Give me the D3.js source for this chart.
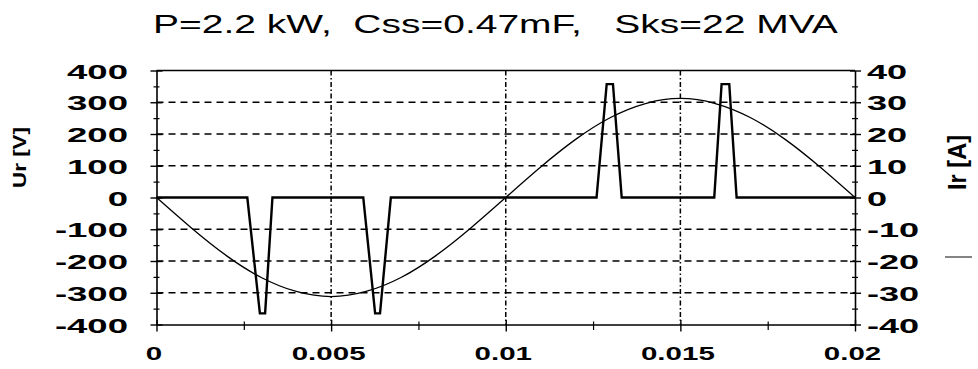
<!DOCTYPE html>
<html>
<head>
<meta charset="utf-8">
<script src="https://cdn.jsdelivr.net/npm/d3@7"></script>
<style>
  html, body { margin: 0; padding: 0; background: #fff; }
  svg { display: block; }
  text { font-family: "Liberation Sans", Arial, sans-serif; fill: #000; }
</style>
</head>
<body>
<svg id="chart" width="978" height="369"></svg>
<script>
// Rectifier input: phase voltage Ur and phase current Ir over one 50 Hz period
const titleText = "P=2.2 kW,  Css=0.47mF,   Sks=22 MVA";
const voltLabel = "Ur [V]";
const currLabel = "Ir [A]";

const timeTicks = [0, 0.005, 0.01, 0.015, 0.02];
const timeMinor = [0.0025, 0.0075, 0.0125, 0.0175];
const voltTicks = [-400, -300, -200, -100, 0, 100, 200, 300, 400];
const voltMinor = [-350, -250, -150, -50, 50, 150, 250, 350];
const currTicks = [-40, -30, -20, -10, 0, 10, 20, 30, 40];
const currMinor = [-35, -25, -15, -5, 5, 15, 25, 35];
const timeGrid = [0.005, 0.01, 0.015];
const voltGrid = [-300, -200, -100, 100, 200, 300];

// Ur samples [s], [V]
const voltTime = [0, 0.001, 0.002, 0.003, 0.004, 0.005, 0.006, 0.007, 0.008, 0.009, 0.01,
                  0.011, 0.012, 0.013, 0.014, 0.015, 0.016, 0.017, 0.018, 0.019, 0.02];
const voltValues = [0, -96, -183, -252, -296, -312, -296, -252, -183, -96, 0,
                    96, 183, 252, 296, 312, 296, 252, 183, 96, 0];

// Ir breakpoints [s], [A]
const currTime = [0, 0.0026, 0.00296, 0.00311, 0.00332,
                  0.00592, 0.00626, 0.0064, 0.00671,
                  0.0126, 0.01289, 0.01307, 0.01332,
                  0.01597, 0.01618, 0.0164, 0.01661, 0.02];
const currValues = [0, 0, -36.5, -36.5, 0,
                    0, -36.5, -36.5, 0,
                    0, 35.7, 35.7, 0,
                    0, 35.7, 35.7, 0, 0];

const svg = d3.select("#chart");

const x = d3.scaleLinear().domain([0, 0.02]).range([156.5, 855]);
const yU = d3.scaleLinear().domain([-400, 400]).range([324.5, 70.5]);
const yI = d3.scaleLinear().domain([-40, 40]).range([324.5, 70.5]);

// grid
svg.append("g").selectAll("line").data(voltGrid).join("line")
  .attr("x1", x(0)).attr("x2", x(0.02))
  .attr("y1", d => yU(d)).attr("y2", d => yU(d))
  .attr("stroke", "#000").attr("stroke-width", 1.6)
  .attr("stroke-dasharray", "7,5");
svg.append("g").selectAll("line").data(timeGrid).join("line")
  .attr("x1", d => x(d)).attr("x2", d => x(d))
  .attr("y1", yU(400)).attr("y2", yU(-400))
  .attr("stroke", "#000").attr("stroke-width", 1.5)
  .attr("stroke-dasharray", "5,2.5,1.5,2.5");
// top frame
svg.append("line")
  .attr("x1", x(0)).attr("x2", x(0.02))
  .attr("y1", yU(400)).attr("y2", yU(400))
  .attr("stroke", "#000").attr("stroke-width", 1.6);

const fmt = d => String(d);

function styleLabels(sel, size) {
  sel.attr("font-family", "'Liberation Sans', Arial, sans-serif")
     .attr("font-size", size).attr("font-weight", "bold").attr("fill", "#000");
}

// left axis (voltage)
const axL = svg.append("g").attr("transform", `translate(${x(0)},0)`)
  .call(d3.axisLeft(yU).tickValues(voltTicks).tickSize(6).tickSizeOuter(0).tickFormat(fmt));
axL.select(".domain").attr("stroke-width", 1.6);
axL.selectAll(".tick line").attr("x1", 6).attr("x2", -6).attr("stroke-width", 1.4);
const sxL = 1.74;
axL.selectAll(".tick text").call(styleLabels, 21)
  .attr("x", -28.5 / sxL).attr("y", 7.5).attr("dy", null)
  .attr("transform", `scale(${sxL},1)`);
const axLm = svg.append("g").attr("transform", `translate(${x(0)},0)`)
  .call(d3.axisLeft(yU).tickValues(voltMinor).tickSize(3).tickSizeOuter(0).tickFormat(""));
axLm.select(".domain").remove();
axLm.selectAll(".tick line").attr("x1", 3).attr("x2", -3).attr("stroke-width", 1.2);

// right axis (current)
const axR = svg.append("g").attr("transform", `translate(${x(0.02)},0)`)
  .call(d3.axisRight(yI).tickValues(currTicks).tickSize(6).tickSizeOuter(0).tickFormat(fmt));
axR.select(".domain").attr("stroke-width", 1.6);
axR.selectAll(".tick line").attr("x1", -5).attr("x2", 6).attr("stroke-width", 1.4);
const sxR = 1.72;
axR.selectAll(".tick text").call(styleLabels, 21)
  .attr("x", 12 / sxR).attr("y", 7.5).attr("dy", null)
  .attr("transform", `scale(${sxR},1)`);
const axRm = svg.append("g").attr("transform", `translate(${x(0.02)},0)`)
  .call(d3.axisRight(yI).tickValues(currMinor).tickSize(3).tickSizeOuter(0).tickFormat(""));
axRm.select(".domain").remove();
axRm.selectAll(".tick line").attr("x1", -3).attr("x2", 3).attr("stroke-width", 1.2);

// bottom axis (time)
const axB = svg.append("g").attr("transform", `translate(0,${yU(-400)})`)
  .call(d3.axisBottom(x).tickValues(timeTicks).tickSize(7).tickSizeOuter(0).tickFormat(fmt));
axB.select(".domain").attr("stroke-width", 1.6);
axB.selectAll(".tick line").attr("y1", -4.5).attr("y2", 7).attr("stroke-width", 1.4);
const sxB = 1.64;
axB.selectAll(".tick text").call(styleLabels, 18)
  .attr("x", -3 / sxB).attr("y", 35.5).attr("dy", null)
  .attr("transform", `scale(${sxB},1)`);
const axBm = svg.append("g").attr("transform", `translate(0,${yU(-400)})`)
  .call(d3.axisBottom(x).tickValues(timeMinor).tickSize(5).tickSizeOuter(0).tickFormat(""));
axBm.select(".domain").remove();
axBm.selectAll(".tick line").attr("y1", -3).attr("y2", 5.5).attr("stroke-width", 1.2);

// voltage curve
const uLine = d3.line()
  .x((d, i) => x(voltTime[i]))
  .y(d => yU(d))
  .curve(d3.curveNatural);
svg.append("path").datum(voltValues)
  .attr("d", uLine).attr("fill", "none")
  .attr("stroke", "#000").attr("stroke-width", 1.3);

// current pulses
const iLine = d3.line()
  .x((d, i) => x(currTime[i]))
  .y(d => yI(d));
svg.append("path").datum(currValues)
  .attr("d", iLine).attr("fill", "none")
  .attr("stroke", "#000").attr("stroke-width", 2.4)
  .attr("stroke-linejoin", "miter");

// title
const tg = svg.append("g");
const tt = tg.append("text")
  .attr("xml:space", "preserve").style("white-space", "pre")
  .attr("font-size", 26).attr("font-weight", "normal")
  .attr("text-anchor", "start")
  .text(titleText);
const tw = tt.node().getComputedTextLength();
tg.attr("transform", `translate(153,33) scale(${685 / tw},1)`);

// axis titles (rotated)
function axisTitle(txt, bx, cy, size, len) {
  const g = svg.append("g");
  const t = g.append("text")
    .attr("font-size", size).attr("font-weight", "bold")
    .attr("text-anchor", "middle").text(txt);
  const w = t.node().getComputedTextLength();
  g.attr("transform", `translate(${bx},${cy}) rotate(-90) scale(${len / w},1)`);
}
axisTitle(voltLabel, 26, 157.5, 19, 61);
axisTitle(currLabel, 966, 162.5, 26, 55);

// small marker stroke beside the current label
svg.append("line")
  .attr("x1", 945).attr("x2", 972).attr("y1", 257).attr("y2", 257)
  .attr("stroke", "#333").attr("stroke-width", 1.2);
</script>
</body>
</html>
